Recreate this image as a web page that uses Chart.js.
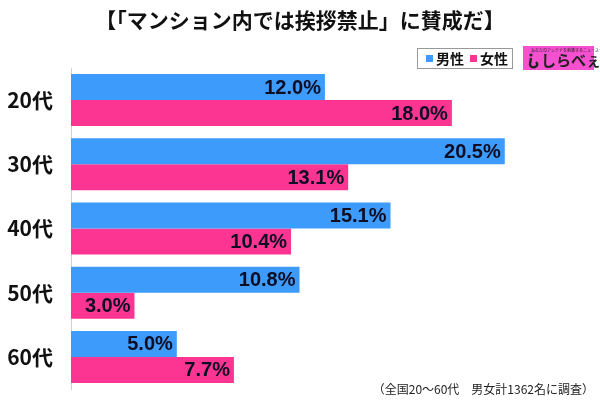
<!DOCTYPE html>
<html>
<head>
<meta charset="utf-8">
<script src="https://cdn.jsdelivr.net/npm/chart.js@4/dist/chart.umd.min.js"></script>
<style>
  html, body { margin: 0; padding: 0; background: #fff; }
  #wrap { width: 600px; height: 400px; position: relative; }
</style>
</head>
<body>
<div id="wrap"><canvas id="myChart" width="600" height="400"></canvas></div>
<script>
const titleText = "【「マンション内では挨拶禁止」に賛成だ】";
const noteText = "（全国20～60代　男女計1362名に調査）";
const ageLabels = ["20代", "30代", "40代", "50代", "60代"];
const maleValues = [12.0, 20.5, 15.1, 10.8, 5.0];
const femaleValues = [18.0, 13.1, 10.4, 3.0, 7.7];
const seriesNames = ["男性", "女性"];
const barColors = ["#3d9bfb", "#fb3591"];

const jpFont = '"Noto Sans CJK JP", "Noto Sans", sans-serif';

// title, legend box, logo, note and value labels
const extras = {
  id: "extras",
  afterDatasetsDraw(chart) {
    const ctx = chart.ctx;
    ctx.save();

    // value labels inside the bar ends
    ctx.font = 'bold 20px "Liberation Sans", Arial, sans-serif';
    ctx.fillStyle = "#0d0d24";
    ctx.textAlign = "right";
    ctx.textBaseline = "middle";
    chart.data.datasets.forEach((ds, di) => {
      chart.getDatasetMeta(di).data.forEach((bar, i) => {
        ctx.fillText(ds.data[i].toFixed(1) + "%", bar.x - 4, bar.y + 1);
      });
    });

    // title
    ctx.textAlign = "center";
    ctx.fillStyle = "#111";
    ctx.font = "bold 21px " + jpFont;
    ctx.fillText(titleText, 300, 20);

    // legend box
    ctx.fillStyle = "#fff";
    ctx.fillRect(417, 48, 96, 21);
    ctx.strokeStyle = "#999";
    ctx.lineWidth = 1;
    ctx.strokeRect(417.5, 48.5, 95, 20);
    ctx.textAlign = "left";
    ctx.font = "bold 14px " + jpFont;
    const lx = [426, 470];
    seriesNames.forEach((name, i) => {
      ctx.fillStyle = barColors[i];
      ctx.fillRect(lx[i], 55, 7, 7);
      ctx.fillStyle = "#111";
      ctx.fillText(name, lx[i] + 10, 59);
    });

    // logo
    ctx.fillStyle = "#f450cf";
    ctx.fillRect(523, 46, 71, 24);
    ctx.fillStyle = "#222";
    ctx.font = "4px " + jpFont;
    ctx.fillText("あなたのアンテナを刺激するニュースサイト", 531, 50);
    ctx.beginPath();
    ctx.arc(531, 55, 1.6, 0, Math.PI * 2);
    ctx.fill();
    ctx.lineWidth = 2.4;
    ctx.strokeStyle = "#222";
    ctx.beginPath();
    ctx.moveTo(531, 58);
    ctx.lineTo(530, 64);
    ctx.quadraticCurveTo(530, 68, 535, 67);
    ctx.quadraticCurveTo(539, 65, 536, 62);
    ctx.stroke();
    ctx.font = "bold 15px " + jpFont;
    ctx.fillText("しらべぇ", 541, 60);

    // note
    ctx.fillStyle = "#222";
    ctx.font = "12px " + jpFont;
    ctx.textAlign = "right";
    ctx.fillText(noteText, 594, 389);

    ctx.restore();
  }
};

new Chart("myChart", {
  type: "bar",
  data: {
    labels: ageLabels,
    datasets: [
      { label: seriesNames[0], data: maleValues, backgroundColor: barColors[0] },
      { label: seriesNames[1], data: femaleValues, backgroundColor: barColors[1] }
    ]
  },
  options: {
    indexAxis: "y",
    responsive: false,
    animation: false,
    events: [],
    layout: { padding: { top: 68, bottom: 11, left: 0, right: 0 } },
    datasets: { bar: { categoryPercentage: 0.81, barPercentage: 1.0 } },
    scales: {
      x: { display: false, min: 0, max: 25 },
      y: {
        grid: { display: false, drawTicks: false },
        border: { display: true, color: "#d0d0d0", width: 1 },
        ticks: {
          color: "#111",
          padding: 18,
          font: { family: jpFont, size: 21, weight: "bold" }
        },
        afterFit(scale) {
          scale.width = 71;
          scale.paddingTop = 0;
          scale.paddingBottom = 0;
        }
      }
    },
    plugins: {
      legend: { display: false },
      tooltip: { enabled: false }
    }
  },
  plugins: [extras]
});
</script>
</body>
</html>
